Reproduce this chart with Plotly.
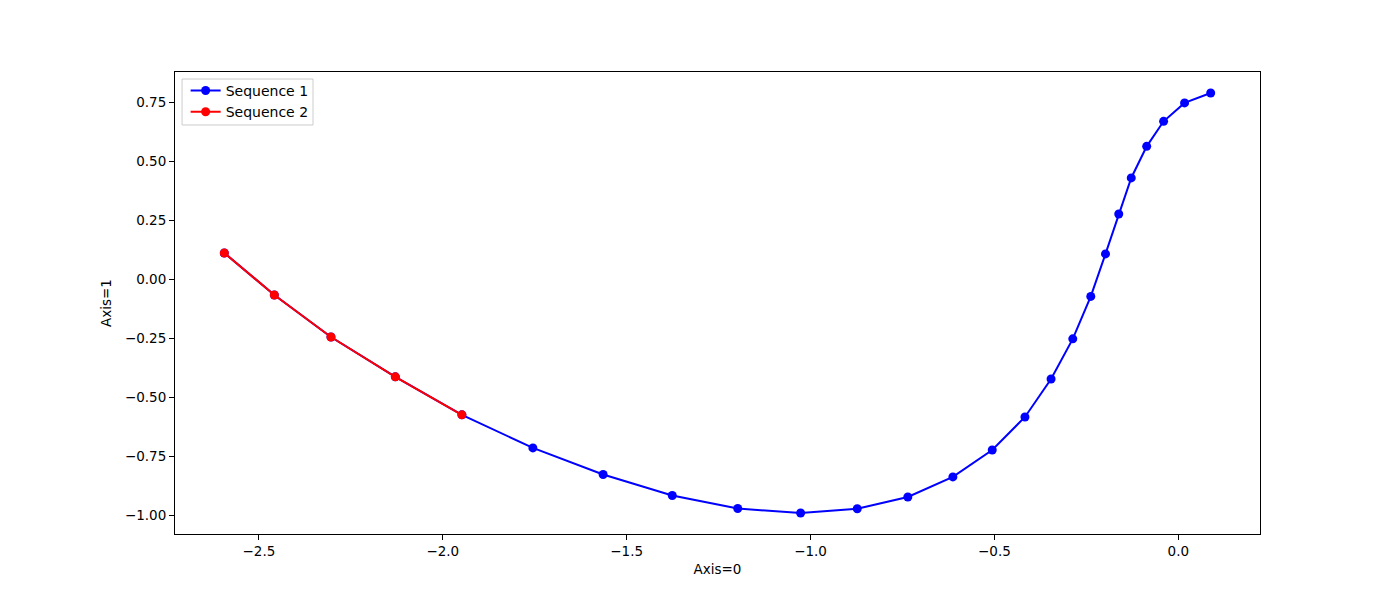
import plotly.graph_objects as go

seq1_x = [-2.594, -2.458, -2.304, -2.129, -1.948, -1.755, -1.564, -1.376, -1.198, -1.027,
          -0.873, -0.7355, -0.613, -0.506, -0.417, -0.346, -0.287, -0.238, -0.198, -0.162,
          -0.128, -0.086, -0.040, 0.017, 0.088]
seq1_y = [0.113, -0.065, -0.243, -0.412, -0.573, -0.713, -0.826, -0.915, -0.970, -0.989,
          -0.971, -0.921, -0.836, -0.722, -0.582, -0.421, -0.251, -0.071, 0.109, 0.278,
          0.431, 0.565, 0.671, 0.749, 0.791]
seq2_x = seq1_x[:5]
seq2_y = seq1_y[:5]

x_ticks = [-2.5, -2.0, -1.5, -1.0, -0.5, 0.0]
y_ticks = [-1.0, -0.75, -0.5, -0.25, 0.0, 0.25, 0.5, 0.75]

font = "DejaVu Sans"

fig = go.Figure()
fig.add_trace(go.Scatter(x=seq1_x, y=seq1_y, mode="lines+markers", name="Sequence 1",
                         line=dict(color="blue", width=2), marker=dict(color="blue", size=9)))
fig.add_trace(go.Scatter(x=seq2_x, y=seq2_y, mode="lines+markers", name="Sequence 2",
                         line=dict(color="red", width=2), marker=dict(color="red", size=9)))

xmin, xmax = min(seq1_x), max(seq1_x)
ymin, ymax = min(seq1_y), max(seq1_y)
xp = (xmax - xmin) * 0.05
yp = (ymax - ymin) * 0.05

axis_common = dict(showgrid=False, zeroline=False, showline=True, linecolor="black", linewidth=1,
                   mirror=True, ticks="outside", ticklen=5, tickcolor="black", tickwidth=1,
                   tickfont=dict(family=font, size=13.5, color="black"))

fig.update_layout(
    width=1400, height=600,
    margin=dict(l=167, r=148, t=64, b=74),
    plot_bgcolor="white", paper_bgcolor="white",
    font=dict(family=font, size=13.5, color="black"),
    xaxis=dict(range=[xmin - xp, xmax + xp], tickvals=x_ticks, tickformat=".1f",
               title=dict(text="Axis=0", font=dict(family=font, size=13.5), standoff=6),
               **axis_common),
    yaxis=dict(range=[ymin - yp, ymax + yp], tickvals=y_ticks, tickformat=".2f",
               title=dict(text="Axis=1", font=dict(family=font, size=13.5), standoff=10),
               **axis_common),
    legend=dict(x=0.0098, y=0.9937, xanchor="left", yanchor="top",
                bgcolor="rgba(0,0,0,0)", borderwidth=0,
                font=dict(family=font, size=14), tracegroupgap=0),
    showlegend=True,
    shapes=[dict(type="rect", xref="paper", yref="paper",
                 x0=0.0065, x1=0.1272, y0=0.8853, y1=0.9848,
                 line=dict(color="#cccccc", width=1), fillcolor="rgba(255,255,255,0.8)",
                 layer="above")],
)

fig.write_html("out.html")
